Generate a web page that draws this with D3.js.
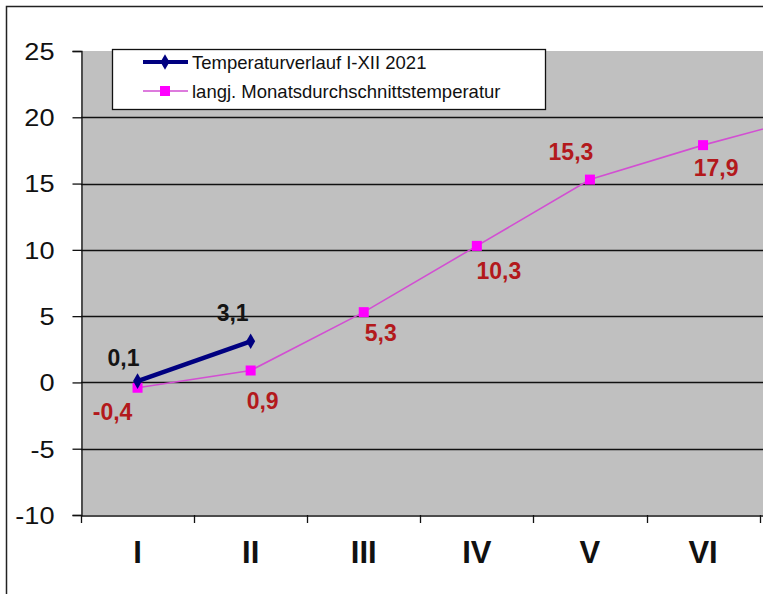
<!DOCTYPE html>
<html><head><meta charset="utf-8">
<script src="https://cdn.jsdelivr.net/npm/d3@7"></script>
<style>html,body{margin:0;padding:0;background:#fff;overflow:hidden}svg{display:block;font-family:Arial,"Liberation Sans",sans-serif}</style>
</head><body>
<svg id="c" width="763" height="594"></svg>
<script>
const months = ["I","II","III","IV","V","VI","VII","VIII","IX","X","XI","XII"];
const series2021 = [0.1, 3.1];
const seriesLongTerm = [-0.4, 0.9, 5.3, 10.3, 15.3, 17.9, 20.2];
const labeledLongTerm = 6; // labels visible for I..VI
const yTicks = [-10, -5, 0, 5, 10, 15, 20, 25];
const seriesNames = ["Temperaturverlauf I-XII 2021", "langj. Monatsdurchschnittstemperatur"];

(function () {
const W = 763;
const svg = d3.select("#c");
const pLeft = 81, pTop = 51, pBottom = 515, band = 113.1;
const x = d3.scaleBand().domain(months).range([pLeft, pLeft + band * months.length]).paddingInner(0).paddingOuter(0);
const y = d3.scaleLinear().domain([-10, 25]).range([pBottom, pTop]);
const cx = m => x(m) + x.bandwidth() / 2;

// outer chart border
svg.append("rect").attr("x", 6.5).attr("y", 6.5).attr("width", 900).attr("height", 700)
  .attr("fill", "#fff").attr("stroke", "#222").attr("stroke-width", 1.5);

// plot area
svg.append("rect").attr("x", pLeft).attr("y", pTop).attr("width", band * months.length).attr("height", pBottom - pTop)
  .attr("fill", "#c0c0c0");

// gridlines
svg.append("g").selectAll("line").data(yTicks.filter(t => t > -10 && t < 25)).join("line")
  .attr("x1", pLeft).attr("x2", pLeft + band * months.length)
  .attr("y1", d => Math.round(y(d)) + 0.5).attr("y2", d => Math.round(y(d)) + 0.5)
  .attr("stroke", "#111").attr("stroke-width", 1.3);

// y axis
const yAxis = d3.axisLeft(y).tickValues(yTicks).tickSize(9).tickPadding(6).tickFormat(d => String(d));
const gy = svg.append("g").attr("transform", `translate(${pLeft + 0.5},0)`).call(yAxis);
gy.select(".domain").attr("stroke", "#111").attr("stroke-width", 1.3);
gy.selectAll(".tick line").attr("stroke", "#111").attr("stroke-width", 1.3);
gy.selectAll(".tick text").attr("font-size", 23).attr("fill", "#111")
  .attr("font-family", "Arial, 'Liberation Sans', sans-serif")
  .attr("dy", "0.36em").attr("x", 0).attr("text-anchor", "end")
  .attr("transform", "translate(-27,0) scale(1.18,1)");

// x axis
const xAxis = d3.axisBottom(x).tickSize(0).tickFormat("");
const gx = svg.append("g").attr("transform", `translate(0,${pBottom + 0.5})`).call(xAxis);
gx.select(".domain").attr("stroke", "#111").attr("stroke-width", 1.3);
gx.selectAll(".tick").remove();
svg.append("g").selectAll("line").data(months.concat(["end"])).join("line")
  .attr("x1", (d, i) => Math.round(pLeft + i * band) + 0.5).attr("x2", (d, i) => Math.round(pLeft + i * band) + 0.5)
  .attr("y1", pBottom).attr("y2", pBottom + 8).attr("stroke", "#111").attr("stroke-width", 1.3);
svg.append("g").selectAll("text").data(months.filter(m => cx(m) + 20 < W)).join("text")
  .attr("x", d => cx(d)).attr("y", 563).attr("text-anchor", "middle")
  .attr("font-size", 31).attr("font-weight", "bold").attr("fill", "#111").text(d => d);

// long-term series
const pts2 = seriesLongTerm.map((v, i) => [cx(months[i]), y(v)]);
svg.append("path").attr("d", d3.line()(pts2)).attr("fill", "none")
  .attr("stroke", "#d24fd2").attr("stroke-width", 1.6);
svg.append("g").selectAll("rect").data(pts2).join("rect")
  .attr("x", d => d[0] - 5).attr("y", d => d[1] - 5).attr("width", 10).attr("height", 10)
  .attr("fill", "#ff00ff");

// 2021 series
const pts1 = series2021.map((v, i) => [cx(months[i]), y(v)]);
svg.append("path").attr("d", d3.line()(pts1)).attr("fill", "none")
  .attr("stroke", "#000080").attr("stroke-width", 4.5);
const diamond = d3.symbol().type(d3.symbolDiamond).size(70);
svg.append("g").selectAll("path").data(pts1).join("path")
  .attr("transform", d => `translate(${d[0]},${d[1]})`).attr("d", diamond).attr("fill", "#000080");

// data labels (manual nudges as in the original)
const fmt = v => String(v).replace(".", ",");
const off1 = [[-14, -15], [-18, -20]];
const off2 = [[-25, 32], [12, 39], [17, 29], [22, 33], [-19, -20], [13, 31]];
svg.append("g").selectAll("text").data(series2021).join("text")
  .attr("x", (d, i) => pts1[i][0] + off1[i][0]).attr("y", (d, i) => pts1[i][1] + off1[i][1])
  .attr("text-anchor", "middle").attr("font-size", 23).attr("font-weight", "bold").attr("fill", "#141414")
  .text(fmt);
svg.append("g").selectAll("text").data(seriesLongTerm.slice(0, labeledLongTerm)).join("text")
  .attr("x", (d, i) => pts2[i][0] + off2[i][0]).attr("y", (d, i) => pts2[i][1] + off2[i][1])
  .attr("text-anchor", "middle").attr("font-size", 23).attr("font-weight", "bold").attr("fill", "#b3191c")
  .text(fmt);

// legend
const lg = svg.append("g");
lg.append("rect").attr("x", 112.5).attr("y", 49.5).attr("width", 433).attr("height", 60)
  .attr("fill", "#fff").attr("stroke", "#111").attr("stroke-width", 1.3);
const ly = [62, 91];
lg.append("line").attr("x1", 143).attr("x2", 188).attr("y1", ly[0]).attr("y2", ly[0]).attr("stroke", "#000080").attr("stroke-width", 4);
lg.append("path").attr("transform", `translate(165,${ly[0]})`).attr("d", diamond).attr("fill", "#000080");
lg.append("line").attr("x1", 143).attr("x2", 188).attr("y1", ly[1]).attr("y2", ly[1]).attr("stroke", "#d24fd2").attr("stroke-width", 1.6);
lg.append("rect").attr("x", 160).attr("y", ly[1] - 5).attr("width", 10).attr("height", 10).attr("fill", "#ff00ff");
lg.selectAll("text").data(seriesNames).join("text")
  .attr("x", 192).attr("y", (d, i) => ly[i] + 6.5).attr("font-size", 18.5).attr("fill", "#111").text(d => d);
})();
</script>
</body></html>
